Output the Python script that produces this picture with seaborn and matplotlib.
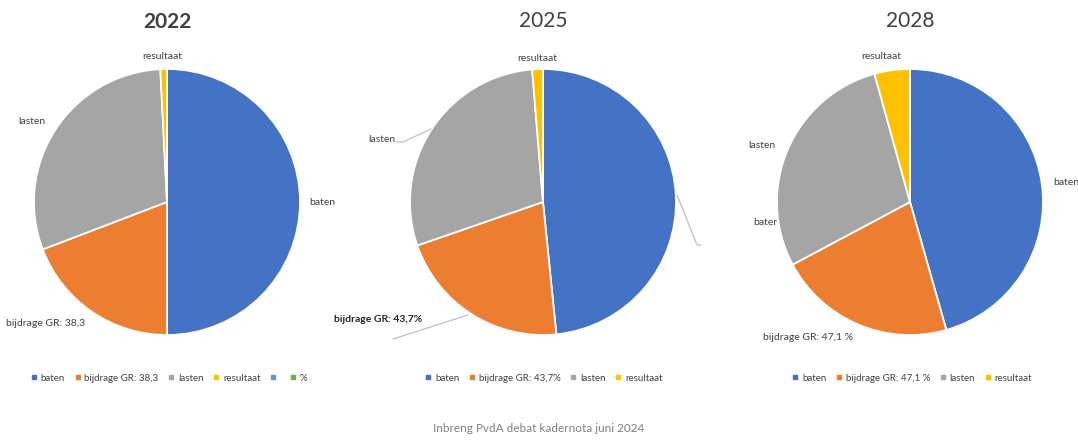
import matplotlib
matplotlib.use("Agg")
import matplotlib.pyplot as plt
from matplotlib.lines import Line2D
import seaborn as sns

sns.set_theme(style="white")
plt.rcParams['font.family'] = ['Lato', 'DejaVu Sans']

# ---------------- data ----------------
years = ["2022", "2025", "2028"]
categories = ["baten", "bijdrage GR", "lasten", "resultaat"]
values_2022 = [50.0, 19.2, 30.0, 0.8]
values_2025 = [48.4, 21.3, 29.0, 1.3]
values_2028 = [45.6, 21.6, 28.5, 4.3]
bijdrage_labels = ["bijdrage GR: 38,3", "bijdrage GR: 43,7%", "bijdrage GR: 47,1 %"]
legend_extra_2022 = ["", "%"]
footer = "Inbreng PvdA debat kadernota juni 2024"

colors = ["#4472C4", "#ED7D31", "#A5A5A5", "#FFC000"]
extra_colors = ["#5B9BD5", "#70AD47"]

W, H = 1078, 440
fig = plt.figure(figsize=(W / 100, H / 100), dpi=100)
ax = fig.add_axes([0, 0, 1, 1])

def Y(y):
    return H - y

R = 133
centers = [(167, 202), (543, 202), (910, 202)]
all_values = [values_2022, values_2025, values_2028]

for (cx, cy), vals in zip(centers, all_values):
    ax.pie(vals, colors=colors, startangle=90, counterclock=False,
           center=(cx, Y(cy)), radius=R,
           wedgeprops=dict(edgecolor="white", linewidth=1.3))

ax.set_xlim(0, W)
ax.set_ylim(0, H)
ax.set_aspect("equal")
ax.axis("off")

txt = "#404040"
lab_fs = 7.5

# titles
ax.text(167, Y(22), years[0], ha="center", va="center", fontsize=15, fontweight="bold", color=txt)
ax.text(543, Y(21), years[1], ha="center", va="center", fontsize=15, color=txt)
ax.text(910, Y(21), years[2], ha="center", va="center", fontsize=15, color=txt)

# 2022 labels
ax.text(162, Y(56), "resultaat", ha="center", va="center", fontsize=lab_fs, color=txt)
ax.text(32, Y(121), "lasten", ha="center", va="center", fontsize=lab_fs, color=txt)
ax.text(322, Y(202), "baten", ha="center", va="center", fontsize=lab_fs, color=txt)
ax.text(46, Y(324), bijdrage_labels[0], ha="center", va="center", fontsize=lab_fs, color=txt)

# 2025 labels
lc = "#BFBFBF"
ax.text(537, Y(58), "resultaat", ha="center", va="center", fontsize=lab_fs, color=txt)
ax.text(382, Y(139), "lasten", ha="center", va="center", fontsize=lab_fs, color=txt)
ax.plot([397, 403, 431], [Y(142), Y(142), Y(129)], color=lc, lw=0.9)
ax.text(378, Y(320), bijdrage_labels[1], ha="center", va="center", fontsize=lab_fs,
        fontweight="bold", color="#262626")
ax.plot([393, 468], [Y(339), Y(315)], color=lc, lw=0.9)
ax.plot([677, 697, 701], [Y(195), Y(245), Y(245)], color=lc, lw=0.9)

# 2028 labels
ax.text(881, Y(56), "resultaat", ha="center", va="center", fontsize=lab_fs, color=txt)
ax.text(762, Y(145), "lasten", ha="center", va="center", fontsize=lab_fs, color=txt)
ax.text(1066, Y(182), "baten", ha="center", va="center", fontsize=lab_fs, color=txt)
ax.text(765, Y(222), "bater", ha="center", va="center", fontsize=lab_fs, color=txt)
ax.text(808, Y(338), bijdrage_labels[2], ha="center", va="center", fontsize=lab_fs, color=txt)

# legends
def make_handles(labels, cols):
    return [Line2D([], [], marker="s", linestyle="none", markersize=3.5,
                   markerfacecolor=c, markeredgecolor=c, label=l)
            for l, c in zip(labels, cols)]

legend_sets = [
    (169, categories[:1] + [bijdrage_labels[0]] + categories[2:] + legend_extra_2022,
     colors + extra_colors),
    (544, categories[:1] + [bijdrage_labels[1]] + categories[2:], colors),
    (912, categories[:1] + [bijdrage_labels[2]] + categories[2:], colors),
]
for cx, labels, cols in legend_sets:
    handles = make_handles(labels, cols)
    fig.legend(handles=handles, loc="center", ncol=len(handles),
               bbox_to_anchor=(cx / W, 1 - 378 / H), frameon=False,
               fontsize=7, handlelength=0.6, handletextpad=0.4,
               columnspacing=1.0, labelcolor=txt)

ax.text(W / 2, Y(428), footer, ha="center", va="center", fontsize=8.5, color="#808080")

fig.savefig("out.png", dpi=100)
